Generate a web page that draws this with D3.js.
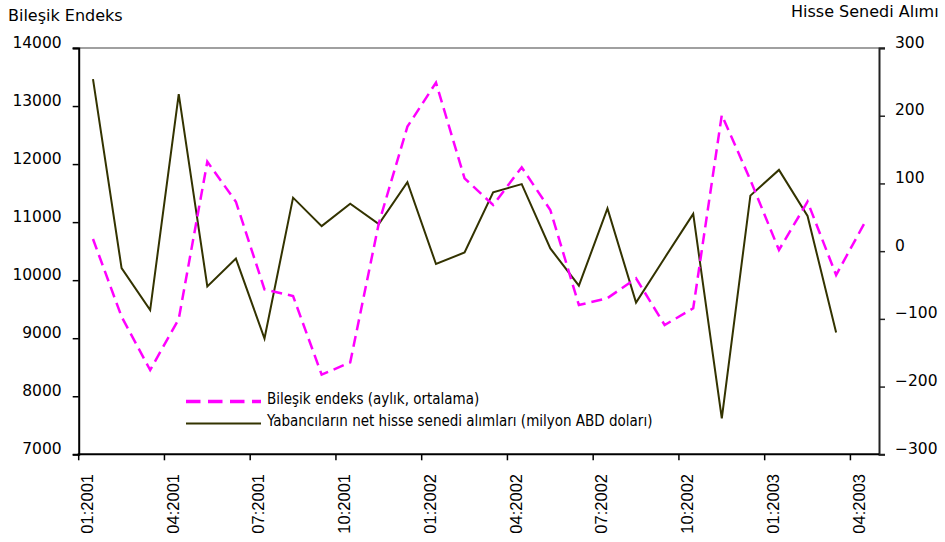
<!DOCTYPE html>
<html>
<head>
<meta charset="utf-8">
<script src="https://cdn.jsdelivr.net/npm/d3@7"></script>
<style>
  html, body { margin: 0; padding: 0; background: #fff; }
  svg { display: block; }
</style>
</head>
<body>
<svg id="chart" width="945" height="542"></svg>
<script>
// ---- data ----
const months = [
  "01:2001","02:2001","03:2001","04:2001","05:2001","06:2001","07:2001","08:2001","09:2001","10:2001","11:2001","12:2001",
  "01:2002","02:2002","03:2002","04:2002","05:2002","06:2002","07:2002","08:2002","09:2002","10:2002","11:2002","12:2002",
  "01:2003","02:2003","03:2003","04:2003"
];
const indexValues = [
  10709, 9371, 8452, 9331, 12041, 11352, 9842, 9727, 8372, 8584, 10980, 12645,
  13403, 11755, 11295, 11944, 11209, 9572, 9690, 10032, 9228, 9515, 12846, 11726,
  10520, 11352, 10089, 10990
];
const foreignValues = [
  254, -25, -87, 232, -52, -11, -129, 79, 37, 70, 40, 102,
  -19, -2, 87, 99, 4, -51, 63, -76, -10, 55, -247, 82,
  120, 52, -120, null
];
const xTickLabels = ["01:2001","04:2001","07:2001","10:2001","01:2002","04:2002","07:2002","10:2002","01:2003","04:2003"];
const leftTicks = [7000, 8000, 9000, 10000, 11000, 12000, 13000, 14000];
const rightTicks = [-300, -200, -100, 0, 100, 200, 300];
const leftTitle = "Bileşik Endeks";
const rightTitle = "Hisse Senedi Alımı";
const legendLabels = ["Bileşik endeks (aylık, ortalama)", "Yabancıların net hisse senedi alımları (milyon ABD doları)"];

// ---- layout ----
const svg = d3.select("#chart");
const L = 78.7, R = 879, T = 48, B = 454.3;
const magenta = "#FF00FF", olive = "#333300";
const numFont = "'DejaVu Sans', sans-serif";
const legFont = "'DejaVu Sans Condensed', 'DejaVu Sans', sans-serif";

const x = d3.scaleBand().domain(months).range([L, R]).padding(0);
const yL = d3.scaleLinear().domain([7000, 14000]).range([B, T]);
const yR = d3.scaleLinear().domain([-300, 300]).range([B, T]);
const cx = m => x(m) + x.bandwidth() / 2;

// top border line (gray)
svg.append("line").attr("x1", L - 6).attr("x2", R + 6).attr("y1", T).attr("y2", T)
  .attr("stroke", "#808080").attr("stroke-width", 1.5);

// left axis
const gL = svg.append("g").attr("transform", `translate(${L},0)`)
  .call(d3.axisLeft(yL).tickValues(leftTicks).tickSize(6).tickFormat(d3.format("d")));
gL.select(".domain").attr("stroke", "#000").attr("stroke-width", 2);
gL.selectAll(".tick line").attr("stroke", "#000").attr("stroke-width", 1.5);
gL.selectAll(".tick text").attr("x", -17).attr("dy", null).attr("y", -1)
  .style("font-family", numFont).style("font-size", "15.5px").attr("fill", "#000");

// right axis
const gR = svg.append("g").attr("transform", `translate(${R},0)`)
  .call(d3.axisRight(yR).tickValues(rightTicks).tickSize(6).tickFormat(d3.format("d")));
gR.select(".domain").attr("stroke", "#222").attr("stroke-width", 2);
gR.selectAll(".tick line").attr("stroke", "#222").attr("stroke-width", 1.5);
gR.selectAll(".tick text").attr("x", 16).attr("dy", null).attr("y", -1)
  .style("font-family", numFont).style("font-size", "15.5px").attr("fill", "#000");

// bottom axis
svg.append("line").attr("x1", L - 1).attr("x2", R).attr("y1", B).attr("y2", B)
  .attr("stroke", "#000").attr("stroke-width", 2);
const gB = svg.append("g");
gB.selectAll("line.xt").data(xTickLabels).join("line").attr("class", "xt")
  .attr("x1", d => x(d)).attr("x2", d => x(d)).attr("y1", B).attr("y2", B + 6)
  .attr("stroke", "#000").attr("stroke-width", 1.5);
gB.selectAll("text.xl").data(xTickLabels).join("text").attr("class", "xl")
  .attr("transform", d => `translate(${cx(d)},474) rotate(-90)`)
  .attr("text-anchor", "end")
  .style("font-family", "'Liberation Sans', Arial, sans-serif").style("font-size", "16.5px")
  .attr("fill", "#000").text(d => d);

// axis titles
svg.append("text").attr("x", 8).attr("y", 21).text(leftTitle)
  .style("font-family", numFont).style("font-size", "16px").attr("fill", "#000");
svg.append("text").attr("x", 791).attr("y", 17).text(rightTitle)
  .style("font-family", numFont).style("font-size", "16px").attr("fill", "#000");

// series
const lineF = d3.line().defined(d => d.v != null).x(d => cx(d.m)).y(d => yR(d.v));
const lineI = d3.line().x(d => cx(d.m)).y(d => yL(d.v));
svg.append("path").datum(months.map((m, i) => ({ m, v: foreignValues[i] })))
  .attr("d", lineF).attr("fill", "none").attr("stroke", olive).attr("stroke-width", 2)
  .attr("stroke-linejoin", "miter");
svg.append("path").datum(months.map((m, i) => ({ m, v: indexValues[i] })))
  .attr("d", lineI).attr("fill", "none").attr("stroke", magenta).attr("stroke-width", 2.5)
  .attr("stroke-dasharray", "11,6");

// legend
const leg = svg.append("g");
leg.append("line").attr("x1", 186).attr("x2", 261).attr("y1", 401.5).attr("y2", 401.5)
  .attr("stroke", magenta).attr("stroke-width", 3.5).attr("stroke-dasharray", "14.5,7.5");
leg.append("line").attr("x1", 186).attr("x2", 261).attr("y1", 423.5).attr("y2", 423.5)
  .attr("stroke", olive).attr("stroke-width", 2);
leg.append("text").attr("x", 267).attr("y", 404).text(legendLabels[0])
  .style("font-family", legFont).style("font-size", "15px").attr("fill", "#000");
leg.append("text").attr("x", 267).attr("y", 426).text(legendLabels[1])
  .style("font-family", legFont).style("font-size", "15px").attr("fill", "#000");
</script>
</body>
</html>
